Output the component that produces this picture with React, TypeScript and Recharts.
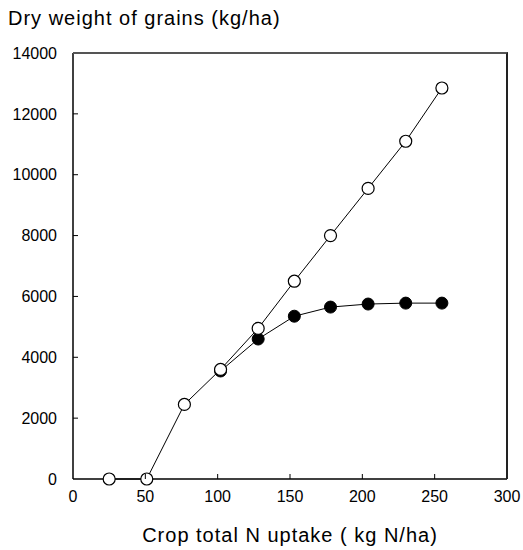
import React from 'react';
import { ScatterChart, Scatter, XAxis, YAxis } from 'recharts';

// N uptake (kg N/ha) and grain dry weight (kg/ha)
const openUptake = [25, 51, 77, 102, 128, 153, 178, 204, 230, 255];
const openYield = [0, 0, 2450, 3600, 4950, 6500, 8000, 9550, 11100, 12850];

const filledUptake = [102, 128, 153, 178, 204, 230, 255];
const filledYield = [3550, 4600, 5350, 5650, 5750, 5780, 5780];

const xTicks = [0, 50, 100, 150, 200, 250, 300];
const yTicks = [0, 2000, 4000, 6000, 8000, 10000, 12000, 14000];

const X_MAX = 300;
const Y_MAX = 14000;

const FONT = '"Liberation Sans", Arial, sans-serif';

const openData = openUptake.map((x, i) => ({ x, y: openYield[i] }));
const filledData = filledUptake.map((x, i) => ({ x, y: filledYield[i] }));

// chart layout
const W = 523;
const H = 550;
const MARGIN = { top: 53, right: 16, bottom: 0, left: 0 };
const Y_AXIS_W = 73;
const X_AXIS_H = 71;
const PLOT_W = W - MARGIN.left - MARGIN.right - Y_AXIS_W;
const PLOT_H = H - MARGIN.top - MARGIN.bottom - X_AXIS_H;

const X_MARGIN = 12;
const Y_MARGIN = 16;
const TICK_LEN = 5;

// ticks point into the plot, so the line is drawn next to the label
const BottomTick = (props: any) => {
  const { x, y, payload } = props;
  const axisY = y - X_MARGIN;
  const v = payload.value;
  return (
    <g>
      {v > 0 && v < X_MAX && (
        <path d={`M${x},${axisY}V${axisY - TICK_LEN}`} stroke="#000" strokeWidth={1} fill="none" />
      )}
      <text x={x} y={y} dy="0.71em" textAnchor="middle" fontFamily={FONT} fontSize={16} fill="#000">
        {v}
      </text>
    </g>
  );
};

const LeftTick = (props: any) => {
  const { x, y, payload } = props;
  const axisX = x + Y_MARGIN;
  const v = payload.value;
  return (
    <g>
      {v > 0 && v < Y_MAX && (
        <path d={`M${axisX},${y}H${axisX + TICK_LEN}`} stroke="#000" strokeWidth={1} fill="none" />
      )}
      <text x={x} y={y} dy="0.355em" textAnchor="end" fontFamily={FONT} fontSize={16} fill="#000">
        {v}
      </text>
    </g>
  );
};

const OpenDot = (props: any) => (
  <circle cx={props.cx} cy={props.cy} r={6} fill="#fff" stroke="#000" strokeWidth={1.2} />
);

const FilledDot = (props: any) => (
  <circle cx={props.cx} cy={props.cy} r={6} fill="#000" stroke="#000" strokeWidth={1} />
);

export default function App() {
  return (
    <div style={{ position: 'absolute', left: 0, top: 0, width: W, height: H, background: '#fff' }}>
      <div
        style={{
          position: 'absolute',
          left: 8,
          top: 7,
          fontFamily: FONT,
          fontSize: 20,
          letterSpacing: 1,
          color: '#000',
          whiteSpace: 'nowrap',
        }}
      >
        Dry weight of grains (kg/ha)
      </div>
      <ScatterChart width={W} height={H} margin={MARGIN}>
        <XAxis
          type="number"
          dataKey="x"
          domain={[0, X_MAX]}
          ticks={xTicks}
          height={X_AXIS_H}
          tickSize={0}
          tickMargin={X_MARGIN}
          tick={<BottomTick />}
          tickLine={false}
          axisLine={{ stroke: '#000', strokeWidth: 1.5 }}
          label={{
            value: 'Crop total N uptake ( kg N/ha)',
            position: 'insideBottom',
            offset: 8,
            fill: '#000',
            fontSize: 20,
            fontFamily: FONT,
            letterSpacing: 1,
          }}
        />
        <YAxis
          type="number"
          dataKey="y"
          domain={[0, Y_MAX]}
          ticks={yTicks}
          width={Y_AXIS_W}
          tickSize={0}
          tickMargin={Y_MARGIN}
          tick={<LeftTick />}
          tickLine={false}
          axisLine={{ stroke: '#000', strokeWidth: 1.5 }}
        />
        <Scatter
          data={filledData}
          line={{ stroke: '#000', strokeWidth: 1 }}
          lineType="joint"
          shape={<FilledDot />}
          isAnimationActive={false}
        />
        <Scatter
          data={openData}
          line={{ stroke: '#000', strokeWidth: 1 }}
          lineType="joint"
          shape={<OpenDot />}
          isAnimationActive={false}
        />
      </ScatterChart>
      {/* top and right edges of the plot frame */}
      <div
        style={{
          position: 'absolute',
          left: MARGIN.left + Y_AXIS_W,
          top: MARGIN.top - 1,
          width: PLOT_W + 1,
          height: PLOT_H + 1,
          boxSizing: 'border-box',
          borderTop: '2px solid #555',
          borderRight: '2px solid #222',
          pointerEvents: 'none',
          zIndex: 2,
        }}
      />
    </div>
  );
}
